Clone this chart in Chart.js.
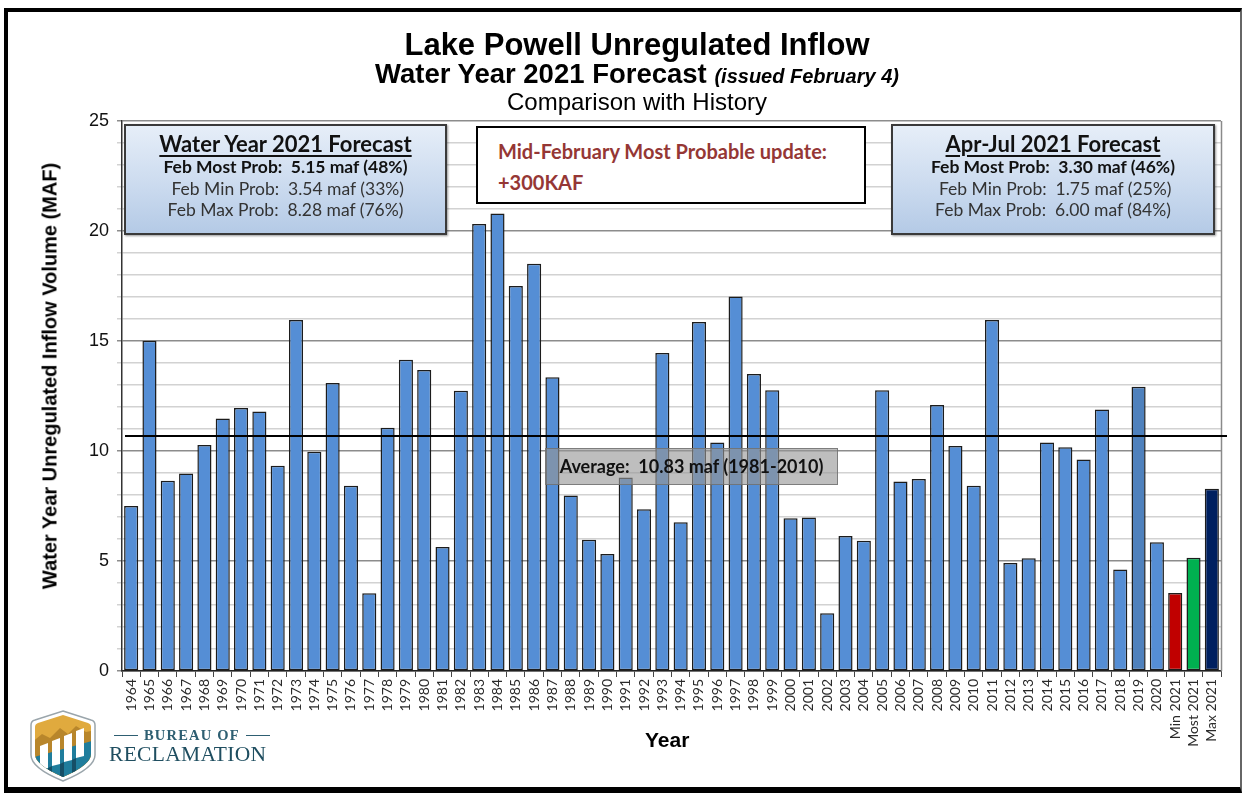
<!DOCTYPE html>
<html>
<head>
<meta charset="utf-8">
<script src="https://cdn.jsdelivr.net/npm/chart.js@4.4.1/dist/chart.umd.min.js"></script>
<style>
  html, body { margin:0; padding:0; background:#fff; }
  #wrap { position:relative; width:1244px; height:793px; overflow:hidden; background:#fff; }
  #c { position:absolute; left:0; top:0; }
  .ov { position:absolute; white-space:nowrap; }
  .frame { position:absolute; left:4px; top:8px; width:1232px; height:775px; border-top:4px solid #000; border-left:4px solid #000; border-bottom:6px solid #000; border-right:2px solid #666; pointer-events:none; }
  .ctr { left:0; width:1244px; text-align:center; padding-left:30px; box-sizing:border-box; color:#000; font-family:"Liberation Sans", Arial, sans-serif; }
  .t1 { font-weight:bold; font-size:31px; top:27px; }
  .t2 { font-weight:bold; font-size:27.5px; top:58px; }
  .t2 i { font-size:20px; }
  .t3 { font-size:24px; top:88px; }
  .box { position:absolute; background:linear-gradient(to bottom, #e6eef8 0%, #c9d9ee 60%, #b4cae6 100%); border:2px solid #3a3a3a; box-shadow:1px 1px 2px rgba(0,0,0,0.4); font-family:Lato, "Open Sans", sans-serif; text-align:center; color:#222; box-sizing:border-box; }
  .box .h { font-weight:bold; font-size:22px; text-decoration:underline; text-underline-offset:3px; margin-top:6px; line-height:24px; color:#111; }
  .box .l { font-size:17.5px; line-height:21.5px; color:#333; }
  .box .b { font-weight:bold; color:#111; }
  .mid { position:absolute; left:476px; top:126px; width:390px; height:78px; border:2px solid #000; background:#fff; box-sizing:border-box; font:bold 20px Lato, sans-serif; color:#953735; padding-left:20px; padding-top:8px; line-height:31px; }
  .avg { position:absolute; left:545px; top:448px; width:293px; height:37px; background:rgba(150,150,150,0.62); border:1px solid rgba(110,110,110,0.8); box-sizing:border-box; font:bold 18px Lato, sans-serif; color:#111; text-align:center; line-height:35px; }
  .ytitle { position:absolute; left:50px; top:376px; width:0; height:0; }
  .ytitle div { position:absolute; transform:translate(-50%,-50%) rotate(-90deg); font:bold 20px "Liberation Sans", Arial, sans-serif; white-space:nowrap; color:#000; }
  .xtitle { font:bold 21px "Liberation Sans", Arial, sans-serif; left:645px; top:728px; color:#000; }
  .bur1 { font:bold 14.5px "Liberation Serif", "DejaVu Serif", serif; letter-spacing:1.2px; color:#2e5f72; left:108px; top:727px; display:flex; align-items:center; }
  .bur1 span.ln { display:inline-block; width:24px; height:1.5px; background:#2e5f72; margin:0 6px; }
  .bur2 { font:21.5px "Liberation Serif", "DejaVu Serif", serif; letter-spacing:0.3px; color:#1f4e60; left:109px; top:742px; }
</style>
</head>
<body>
<div id="wrap">
  <canvas id="c" width="1244" height="793"></canvas>
  <div class="ov ctr t1">Lake Powell Unregulated Inflow</div>
  <div class="ov ctr t2">Water Year 2021 Forecast <i>(issued February 4)</i></div>
  <div class="ov ctr t3">Comparison with History</div>

  <div class="box" style="left:124px; top:124px; width:323px; height:111px;">
    <div class="h">Water Year 2021 Forecast</div>
    <div class="l b">Feb Most Prob:&nbsp; 5.15 maf (48%)</div>
    <div class="l">&nbsp;Feb Min Prob:&nbsp; 3.54 maf (33%)</div>
    <div class="l">Feb Max Prob:&nbsp; 8.28 maf (76%)</div>
  </div>
  <div class="box" style="left:891px; top:124px; width:324px; height:111px;">
    <div class="h">Apr-Jul 2021 Forecast</div>
    <div class="l b">Feb Most Prob:&nbsp; 3.30 maf (46%)</div>
    <div class="l">&nbsp;Feb Min Prob:&nbsp; 1.75 maf (25%)</div>
    <div class="l">Feb Max Prob:&nbsp; 6.00 maf (84%)</div>
  </div>
  <div class="mid">Mid-February Most Probable update:<br>+300KAF</div>
  <div class="avg">Average:&nbsp; 10.83 maf (1981-2010)</div>

  <div class="ytitle"><div>Water Year Unregulated Inflow Volume (MAF)</div></div>
  <div class="ov xtitle">Year</div>

  <svg class="ov" style="left:30px; top:710px;" width="66" height="72" viewBox="0 0 66 72">
    <defs>
      <clipPath id="sh"><path d="M33 5 L58 13 Q61 14 61 17 L61 44 Q61 55 33 67 Q5 55 5 44 L5 17 Q5 14 8 13 Z"/></clipPath>
    </defs>
    <path d="M33 1 L61 10 Q65 11 65 15 L65 45 Q65 58 33 71 Q1 58 1 45 L1 15 Q1 11 5 10 Z" fill="#fff" stroke="#9aa5ab" stroke-width="1.5"/>
    <g clip-path="url(#sh)">
      <rect x="0" y="0" width="66" height="72" fill="#e0aa3e"/>
      <path d="M0 34 L12 24 L20 28 L30 18 L38 24 L46 16 L56 22 L66 20 L66 72 L0 72 Z" fill="#b8862b"/>
      <path d="M0 48 L66 30 L66 72 L0 72 Z" fill="#1f7d9c"/>
      <path d="M10 60 L10 36 L18 33 L18 58 Z" fill="#fff"/>
      <path d="M22 56 L22 31 L30 28 L30 54 Z" fill="#fff"/>
      <path d="M34 52 L34 26 L42 23 L42 50 Z" fill="#fff"/>
      <path d="M46 48 L46 21 L54 18 L54 46 Z" fill="#fff"/>
      <path d="M18 58 L22 56 L22 72 L18 72 Z" fill="#164f66"/>
      <path d="M30 54 L34 52 L34 72 L30 72 Z" fill="#164f66"/>
      <path d="M42 50 L46 48 L46 72 L42 72 Z" fill="#164f66"/>
    </g>
  </svg>
  <div class="ov bur1"><span class="ln"></span>BUREAU OF<span class="ln"></span></div>
  <div class="ov bur2">RECLAMATION</div>
  <div class="frame"></div>
</div>
<script>
// ---------------- DATA ----------------
const categories = ['1964','1965','1966','1967','1968','1969','1970','1971','1972','1973',
  '1974','1975','1976','1977','1978','1979','1980','1981','1982','1983',
  '1984','1985','1986','1987','1988','1989','1990','1991','1992','1993',
  '1994','1995','1996','1997','1998','1999','2000','2001','2002','2003',
  '2004','2005','2006','2007','2008','2009','2010','2011','2012','2013',
  '2014','2015','2016','2017','2018','2019','2020','Min 2021','Most 2021','Max 2021'];
const historicInflow = [7.5, 15.01, 8.65, 8.98, 10.27, 11.48, 11.95, 11.79, 9.33, 15.95,
  9.97, 13.09, 8.42, 3.53, 11.06, 14.15, 13.68, 5.64, 12.74, 20.32,
  20.8, 17.5, 18.51, 13.35, 7.98, 5.97, 5.32, 8.8, 7.35, 14.45,
  6.76, 15.86, 10.39, 17.02, 13.5, 12.76, 6.94, 6.98, 2.62, 6.14,
  5.92, 12.76, 8.61, 8.73, 12.09, 10.23, 8.42, 15.95, 4.91, 5.12,
  10.39, 10.17, 9.61, 11.89, 4.61, 12.92, 5.85];
const forecast2021 = [3.54, 5.15, 8.28];   // Min, Most, Max
const averageLine = 10.68;                  // drawn average line level (MAF)
const yTicks = [0, 5, 10, 15, 20, 25];

const inflowValues = historicInflow.concat(forecast2021);

// ---------------- STYLE ----------------
function barColor(ctx) {
  const lab = categories[ctx.dataIndex];
  if (lab === 'Min 2021') return '#c00000';
  if (lab === 'Most 2021') return '#00b050';
  if (lab === 'Max 2021') return '#002060';
  if (lab === '2019') return '#4f81bd';
  return '#558ed5';
}

const avgPlugin = {
  id: 'avgLine',
  afterDatasetsDraw(chart) {
    const { ctx, chartArea, scales } = chart;
    const y = scales.y.getPixelForValue(averageLine);
    ctx.save();
    ctx.strokeStyle = '#8a8a8a';
    ctx.lineWidth = 1.5;
    ctx.beginPath();
    ctx.moveTo(chartArea.right + 0.5, chartArea.top);
    ctx.lineTo(chartArea.right + 0.5, chartArea.bottom);
    ctx.stroke();
    ctx.strokeStyle = '#000';
    ctx.lineWidth = 2;
    ctx.beginPath();
    ctx.moveTo(chartArea.left + 3, y);
    ctx.lineTo(chartArea.right + 6, y);
    ctx.stroke();
    ctx.restore();
  }
};

new Chart(document.getElementById('c'), {
  type: 'bar',
  data: {
    labels: categories,
    datasets: [{
      data: inflowValues,
      backgroundColor: barColor,
      borderColor: '#1c1c1c',
      borderWidth: 1.5,
      borderSkipped: false,
      barPercentage: 0.77,
      categoryPercentage: 1.0
    }]
  },
  options: {
    responsive: false,
    animation: false,
    devicePixelRatio: 1,
    layout: { padding: { top: 121, right: 23, left: 0, bottom: 0 } },
    plugins: { legend: { display: false }, tooltip: { enabled: false }, title: { display: false } },
    scales: {
      x: {
        afterFit(s) { s.height = 122; },
        grid: { display: true, drawOnChartArea: false, drawTicks: true, tickLength: 6, color: '#444', offset: true },
        border: { display: true, color: '#222', width: 1.5 },
        ticks: {
          minRotation: 90, maxRotation: 90, autoSkip: false, padding: 2,
          color: '#2a2a2a', font: { family: 'Lato, "Open Sans", sans-serif', size: 14 }
        }
      },
      y: {
        min: 0, max: 25,
        afterFit(s) { s.width = 122; },
        afterBuildTicks(s) {
          const t = [];
          for (let v = 0; v <= 25; v++) t.push({ value: v });
          s.ticks = t;
        },
        grid: {
          color: (c) => (c.tick && yTicks.includes(c.tick.value)) ? '#8c8c8c' : '#d2d2d2',
          lineWidth: 1.5,
          tickLength: 5, drawTicks: true
        },
        border: { display: true, color: '#333', width: 1.5 },
        ticks: {
          autoSkip: false,
          padding: 8, color: '#111',
          font: { family: '"Liberation Sans", Arial, sans-serif', size: 18 },
          callback: (v) => yTicks.includes(v) ? String(v) : ''
        }
      }
    }
  },
  plugins: [avgPlugin]
});
</script>
</body>
</html>
